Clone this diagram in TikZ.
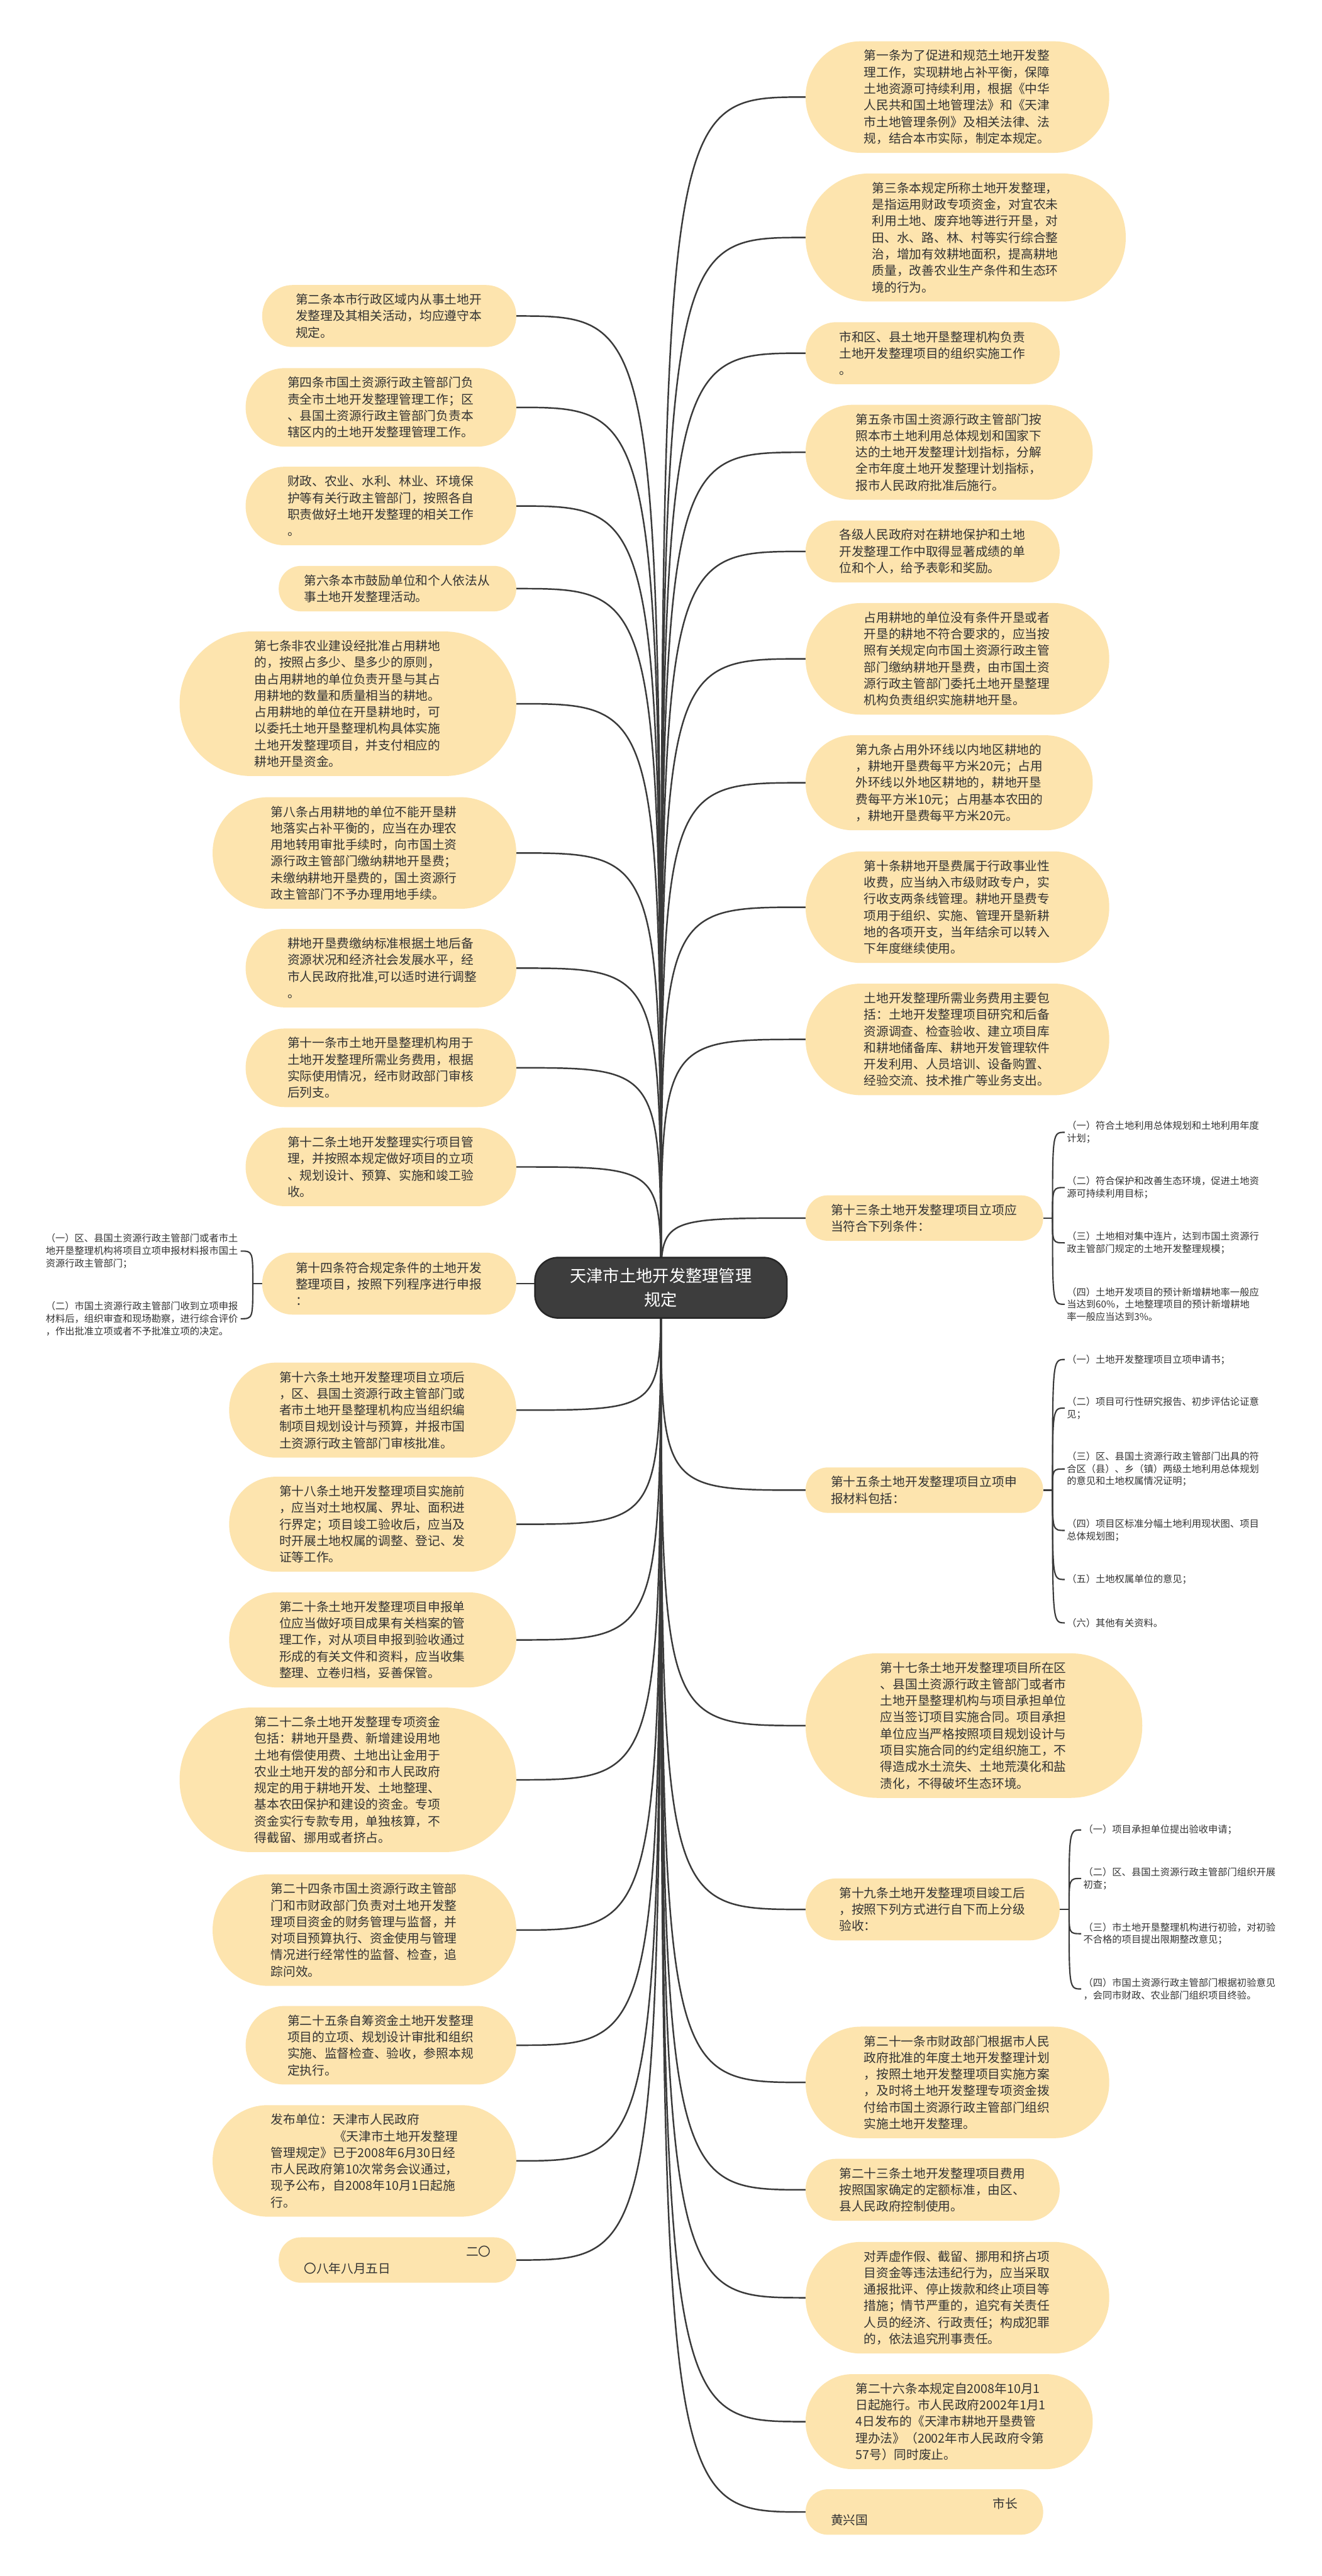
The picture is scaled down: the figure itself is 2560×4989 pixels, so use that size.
\documentclass[tikz,border=0pt]{standalone}
\usepackage{fontspec}
\newfontfamily\cjk{Noto Sans CJK SC}
\definecolor{nfill}{HTML}{FDE4AE}
\definecolor{txt}{HTML}{333333}
\definecolor{lncol}{HTML}{3A3A3A}
\definecolor{ctrfill}{HTML}{3D3D3D}
\definecolor{ctrdraw}{HTML}{262626}
\pgfdeclarelayer{bg}
\pgfsetlayers{bg,main}
\begin{document}
\begin{tikzpicture}[x=1pt,y=-1pt,
 box/.style={fill=nfill, text=txt, text width=362pt, align=left, inner ysep=0pt, font=\cjk\fontsize{24pt}{32pt}\selectfont},
 ln2/.style={minimum height=88pt, inner xsep=49pt, rounded corners=43pt},
 ln3/.style={minimum height=120pt, inner xsep=65pt, rounded corners=59pt},
 ln4/.style={minimum height=152pt, inner xsep=81pt, rounded corners=75pt},
 ln5/.style={minimum height=184pt, inner xsep=97pt, rounded corners=91pt},
 ln6/.style={minimum height=216pt, inner xsep=113pt, rounded corners=107pt},
 ln7/.style={minimum height=248pt, inner xsep=129pt, rounded corners=123pt},
 ln8/.style={minimum height=280pt, inner xsep=145pt, rounded corners=139pt},
 rb/.style={box, anchor=west},
 lb/.style={box, anchor=east},
 sub/.style={text=txt, text width=373pt, align=left, inner xsep=4pt, inner ysep=0pt, font=\cjk\fontsize{18.6pt}{24pt}\selectfont},
 subr/.style={sub, anchor=west},
 subl/.style={sub, anchor=east},
 ctr/.style={fill=ctrfill, draw=ctrdraw, line width=3pt, rounded corners=45pt, minimum width=488pt, minimum height=117pt, text=white, align=center, font=\cjk\fontsize{32pt}{46pt}\selectfont},
 conn/.style={draw=lncol, line width=3pt},
 brk/.style={draw=lncol, line width=2.6pt},
]
\useasboundingbox (0,0) rectangle (2560,4989);

\node[ctr] (ctr) at (1280,2494) {天津市土地开发整理管理\\规定};

% right column
\node[rb,ln6] (r1) at (1560,188) {第一条为了促进和规范土地开发整\\理工作，实现耕地占补平衡，保障\\土地资源可持续利用，根据《中华\\人民共和国土地管理法》和《天津\\市土地管理条例》及相关法律、法\\规，结合本市实际，制定本规定。};
\node[rb,ln7] (r2) at (1560,460) {第三条本规定所称土地开发整理，\\是指运用财政专项资金，对宜农未\\利用土地、废弃地等进行开垦，对\\田、水、路、林、村等实行综合整\\治，增加有效耕地面积，提高耕地\\质量，改善农业生产条件和生态环\\境的行为。};
\node[rb,ln3] (r3) at (1560,684) {市和区、县土地开垦整理机构负责\\土地开发整理项目的组织实施工作\\。};
\node[rb,ln5] (r4) at (1560,876) {第五条市国土资源行政主管部门按\\照本市土地利用总体规划和国家下\\达的土地开发整理计划指标，分解\\全市年度土地开发整理计划指标，\\报市人民政府批准后施行。};
\node[rb,ln3] (r5) at (1560,1068) {各级人民政府对在耕地保护和土地\\开发整理工作中取得显著成绩的单\\位和个人，给予表彰和奖励。};
\node[rb,ln6] (r6) at (1560,1276) {占用耕地的单位没有条件开垦或者\\开垦的耕地不符合要求的，应当按\\照有关规定向市国土资源行政主管\\部门缴纳耕地开垦费，由市国土资\\源行政主管部门委托土地开垦整理\\机构负责组织实施耕地开垦。};
\node[rb,ln5] (r7) at (1560,1516) {第九条占用外环线以内地区耕地的\\，耕地开垦费每平方米20元；占用\\外环线以外地区耕地的，耕地开垦\\费每平方米10元；占用基本农田的\\，耕地开垦费每平方米20元。};
\node[rb,ln6] (r8) at (1560,1757) {第十条耕地开垦费属于行政事业性\\收费，应当纳入市级财政专户，实\\行收支两条线管理。耕地开垦费专\\项用于组织、实施、管理开垦新耕\\地的各项开支，当年结余可以转入\\下年度继续使用。};
\node[rb,ln6] (r9) at (1560,2013) {土地开发整理所需业务费用主要包\\括：土地开发整理项目研究和后备\\资源调查、检查验收、建立项目库\\和耕地储备库、耕地开发管理软件\\开发利用、人员培训、设备购置、\\经验交流、技术推广等业务支出。};
\node[rb,ln2] (r10) at (1560,2359) {第十三条土地开发整理项目立项应\\当符合下列条件：};
\node[rb,ln2] (r11) at (1560,2886) {第十五条土地开发整理项目立项申\\报材料包括：};
\node[rb,ln8] (r12) at (1560,3342) {第十七条土地开发整理项目所在区\\、县国土资源行政主管部门或者市\\土地开垦整理机构与项目承担单位\\应当签订项目实施合同。项目承担\\单位应当严格按照项目规划设计与\\项目实施合同的约定组织施工，不\\得造成水土流失、土地荒漠化和盐\\渍化，不得破坏生态环境。};
\node[rb,ln3] (r13) at (1560,3698) {第十九条土地开发整理项目竣工后\\，按照下列方式进行自下而上分级\\验收：};
\node[rb,ln6] (r14) at (1560,4033) {第二十一条市财政部门根据市人民\\政府批准的年度土地开发整理计划\\，按照土地开发整理项目实施方案\\，及时将土地开发整理专项资金拨\\付给市国土资源行政主管部门组织\\实施土地开发整理。};
\node[rb,ln3] (r15) at (1560,4241) {第二十三条土地开发整理项目费用\\按照国家确定的定额标准，由区、\\县人民政府控制使用。};
\node[rb,ln6] (r16) at (1560,4450) {对弄虚作假、截留、挪用和挤占项\\目资金等违法违纪行为，应当采取\\通报批评、停止拨款和终止项目等\\措施；情节严重的，追究有关责任\\人员的经济、行政责任；构成犯罪\\的，依法追究刑事责任。};
\node[rb,ln5] (r17) at (1560,4690) {第二十六条本规定自2008年10月1\\日起施行。市人民政府2002年1月1\\4日发布的《天津市耕地开垦费管\\理办法》（2002年市人民政府令第\\57号）同时废止。};
\node[rb,ln2] (r18) at (1560,4865) {\hspace*{\fill}市长\hspace*{8pt}\\黄兴国};

% left column
\node[lb,ln3] (l1) at (1000,612) {第二条本市行政区域内从事土地开\\发整理及其相关活动，均应遵守本\\规定。};
\node[lb,ln4] (l2) at (1000,789) {第四条市国土资源行政主管部门负\\责全市土地开发整理管理工作；区\\、县国土资源行政主管部门负责本\\辖区内的土地开发整理管理工作。};
\node[lb,ln4] (l3) at (1000,980) {财政、农业、水利、林业、环境保\\护等有关行政主管部门，按照各自\\职责做好土地开发整理的相关工作\\。};
\node[lb,ln2] (l4) at (1000,1140) {第六条本市鼓励单位和个人依法从\\事土地开发整理活动。};
\node[lb,ln8] (l5) at (1000,1363) {第七条非农业建设经批准占用耕地\\的，按照占多少、垦多少的原则，\\由占用耕地的单位负责开垦与其占\\用耕地的数量和质量相当的耕地。\\占用耕地的单位在开垦耕地时，可\\以委托土地开垦整理机构具体实施\\土地开发整理项目，并支付相应的\\耕地开垦资金。};
\node[lb,ln6] (l6) at (1000,1652) {第八条占用耕地的单位不能开垦耕\\地落实占补平衡的，应当在办理农\\用地转用审批手续时，向市国土资\\源行政主管部门缴纳耕地开垦费；\\未缴纳耕地开垦费的，国土资源行\\政主管部门不予办理用地手续。};
\node[lb,ln4] (l7) at (1000,1875) {耕地开垦费缴纳标准根据土地后备\\资源状况和经济社会发展水平，经\\市人民政府批准,可以适时进行调整\\。};
\node[lb,ln4] (l8) at (1000,2068) {第十一条市土地开垦整理机构用于\\土地开发整理所需业务费用，根据\\实际使用情况，经市财政部门审核\\后列支。};
\node[lb,ln4] (l9) at (1000,2260) {第十二条土地开发整理实行项目管\\理，并按照本规定做好项目的立项\\、规划设计、预算、实施和竣工验\\收。};
\node[lb,ln3] (l10) at (1000,2486) {第十四条符合规定条件的土地开发\\整理项目，按照下列程序进行申报\\：};
\node[lb,ln5] (l11) at (1000,2731) {第十六条土地开发整理项目立项后\\，区、县国土资源行政主管部门或\\者市土地开垦整理机构应当组织编\\制项目规划设计与预算，并报市国\\土资源行政主管部门审核批准。};
\node[lb,ln5] (l12) at (1000,2952) {第十八条土地开发整理项目实施前\\，应当对土地权属、界址、面积进\\行界定；项目竣工验收后，应当及\\时开展土地权属的调整、登记、发\\证等工作。};
\node[lb,ln5] (l13) at (1000,3176) {第二十条土地开发整理项目申报单\\位应当做好项目成果有关档案的管\\理工作，对从项目申报到验收通过\\形成的有关文件和资料，应当收集\\整理、立卷归档，妥善保管。};
\node[lb,ln8] (l14) at (1000,3447) {第二十二条土地开发整理专项资金\\包括：耕地开垦费、新增建设用地\\土地有偿使用费、土地出让金用于\\农业土地开发的部分和市人民政府\\规定的用于耕地开发、土地整理、\\基本农田保护和建设的资金。专项\\资金实行专款专用，单独核算，不\\得截留、挪用或者挤占。};
\node[lb,ln6] (l15) at (1000,3738) {第二十四条市国土资源行政主管部\\门和市财政部门负责对土地开发整\\理项目资金的财务管理与监督，并\\对项目预算执行、资金使用与管理\\情况进行经常性的监督、检查，追\\踪问效。};
\node[lb,ln4] (l16) at (1000,3961) {第二十五条自筹资金土地开发整理\\项目的立项、规划设计审批和组织\\实施、监督检查、验收，参照本规\\定执行。};
\node[lb,ln6] (l17) at (1000,4185) {发布单位：天津市人民政府\\\hspace*{\fill}《天津市土地开发整理\\管理规定》已于2008年6月30日经\\市人民政府第10次常务会议通过，\\现予公布，自2008年10月1日起施\\行。};
\node[lb,ln2] (l18) at (1000,4377) {\hspace*{\fill}二〇\\〇八年八月五日};

% sub items of r10
\path (r10.east) ++(18,0) coordinate (j10);
\node[subr] (s10a) at (2062,2193) {（一）符合土地利用总体规划和土地利用年度\\计划；};
\node[subr] (s10b) at (2062,2300) {（二）符合保护和改善生态环境，促进土地资\\源可持续利用目标；};
\node[subr] (s10c) at (2062,2407) {（三）土地相对集中连片，达到市国土资源行\\政主管部门规定的土地开发整理规模；};
\node[subr] (s10d) at (2062,2526) {（四）土地开发项目的预计新增耕地率一般应\\当达到60\%，土地整理项目的预计新增耕地\\率一般应当达到3\%。};

% sub items of r11
\path (r11.east) ++(18,0) coordinate (j11);
\node[subr] (s11a) at (2062,2633) {（一）土地开发整理项目立项申请书；};
\node[subr] (s11b) at (2062,2727) {（二）项目可行性研究报告、初步评估论证意\\见；};
\node[subr] (s11c) at (2062,2845) {（三）区、县国土资源行政主管部门出具的符\\合区（县）、乡（镇）两级土地利用总体规划\\的意见和土地权属情况证明；};
\node[subr] (s11d) at (2062,2964) {（四）项目区标准分幅土地利用现状图、项目\\总体规划图；};
\node[subr] (s11e) at (2062,3059) {（五）土地权属单位的意见；};
\node[subr] (s11f) at (2062,3143) {（六）其他有关资料。};

% sub items of r13
\path (r13.east) ++(18,0) coordinate (j13);
\node[subr] (s13a) at (2094,3544) {（一）项目承担单位提出验收申请；};
\node[subr] (s13b) at (2094,3638) {（二）区、县国土资源行政主管部门组织开展\\初查；};
\node[subr] (s13c) at (2094,3745) {（三）市土地开垦整理机构进行初验，对初验\\不合格的项目提出限期整改意见；};
\node[subr] (s13d) at (2094,3852) {（四）市国土资源行政主管部门根据初验意见\\，会同市财政、农业部门组织项目终验。};

% sub items of l10
\path (l10.west) ++(-18,0) coordinate (jl10);
\node[subl] (t10a) at (466,2423) {（一）区、县国土资源行政主管部门或者市土\\地开垦整理机构将项目立项申报材料报市国土\\资源行政主管部门；};
\node[subl] (t10b) at (466,2554) {（二）市国土资源行政主管部门收到立项申报\\材料后，组织审查和现场勘察，进行综合评价\\，作出批准立项或者不予批准立项的决定。};

\begin{pgfonlayer}{bg}
\fill[white] (0,0) rectangle (2560,4989);
\foreach \n in {r1,r2,r3,r4,r5,r6,r7,r8,r9,r10,r11,r12,r13,r14,r15,r16,r17,r18}
  \draw[conn] (ctr.center) .. controls (ctr.center |- \n.west) .. (\n.west);
\foreach \n in {l1,l2,l3,l4,l5,l6,l7,l8,l9,l11,l12,l13,l14,l15,l16,l17,l18}
  \draw[conn] (ctr.center) .. controls (ctr.center |- \n.east) .. (\n.east);
\draw[conn] (l10.east) -- (l10.east -| ctr.center);
\draw[brk] (r10.east) -- (j10);
\foreach \c in {s10a,s10b,s10c,s10d}
  \draw[brk] (j10) .. controls (j10 |- \c.west) .. (\c.west);
\draw[brk] (r11.east) -- (j11);
\foreach \c in {s11a,s11b,s11c,s11d,s11e,s11f}
  \draw[brk] (j11) .. controls (j11 |- \c.west) .. (\c.west);
\draw[brk] (r13.east) -- (j13);
\foreach \c in {s13a,s13b,s13c,s13d}
  \draw[brk] (j13) .. controls (j13 |- \c.west) .. (\c.west);
\draw[brk] (l10.west) -- (jl10);
\foreach \c in {t10a,t10b}
  \draw[brk] (jl10) .. controls (jl10 |- \c.east) .. (\c.east);
\end{pgfonlayer}
\end{tikzpicture}
\end{document}
